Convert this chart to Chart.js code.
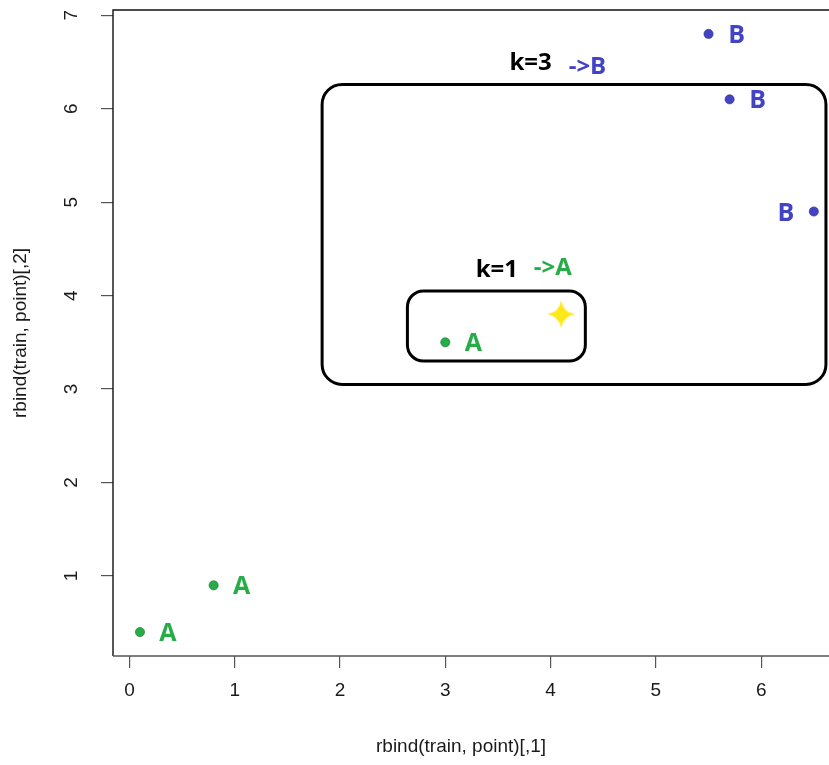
<!DOCTYPE html>
<html>
<head>
<meta charset="utf-8">
<script src="https://cdn.jsdelivr.net/npm/chart.js@4"></script>
<style>
  html, body { margin: 0; padding: 0; background: #fff; overflow: hidden; }
  canvas { display: block; }
</style>
</head>
<body>
<canvas id="knnChart" width="829" height="765"></canvas>
<script>
// training points and their classes
const trainX = [0.1, 0.8, 3.0, 5.5, 5.7, 6.5];
const trainY = [0.4, 0.9, 3.5, 6.8, 6.1, 4.9];
const trainClass = ['A', 'A', 'A', 'B', 'B', 'B'];

// the new point to classify
const queryX = [4.1];
const queryY = [3.8];

const xTicks = [0, 1, 2, 3, 4, 5, 6];
const yTicks = [1, 2, 3, 4, 5, 6, 7];

const xTitle = 'rbind(train, point)[,1]';
const yTitle = 'rbind(train, point)[,2]';

// hand drawn neighbourhoods, in data units
const k3Box = { x0: 1.83, x1: 6.615, y0: 3.05, y1: 6.26 };
const k1Box = { x0: 2.64, x1: 4.33, y0: 3.30, y1: 4.05 };

const GREEN = '#27ad48';
const BLUE = '#4343c6';
const classColor = { A: GREEN, B: BLUE };
const AXIS_FONT = '19px "Liberation Sans", Arial, sans-serif';

// yellow four point sparkle used as the marker for the query point
const sparkle = document.createElement('canvas');
sparkle.width = 32;
sparkle.height = 32;
(function () {
    const c = sparkle.getContext('2d');
    const cx = 16, cy = 16, r = 14, w = 3.8;
    c.fillStyle = '#ffe81a';
    c.beginPath();
    c.moveTo(cx, cy - r);
    c.quadraticCurveTo(cx + w * 0.5, cy - w * 0.5, cx + r, cy);
    c.quadraticCurveTo(cx + w * 0.5, cy + w * 0.5, cx, cy + r);
    c.quadraticCurveTo(cx - w * 0.5, cy + w * 0.5, cx - r, cy);
    c.quadraticCurveTo(cx - w * 0.5, cy - w * 0.5, cx, cy - r);
    c.fill();
    c.beginPath();
    c.arc(cx, cy, 6, 0, Math.PI * 2);
    c.fill();
})();

const pointsA = [], pointsB = [];
trainX.forEach((x, i) => {
    (trainClass[i] === 'A' ? pointsA : pointsB).push({ x: x, y: trainY[i] });
});

// labels next to each point: which side they sit on
const labelSide = [1, 1, 1, 1, 1, -1];

const decorations = {
    id: 'decorations',
    afterDraw(chart) {
        const ctx = chart.ctx;
        const xs = chart.scales.x, ys = chart.scales.y;
        const area = chart.chartArea;
        const px = v => xs.getPixelForValue(v);
        const py = v => ys.getPixelForValue(v);

        ctx.save();

        // plot frame (right side falls off the picture)
        ctx.strokeStyle = '#111';
        ctx.lineWidth = 1.4;
        ctx.beginPath();
        ctx.moveTo(area.right + 2, area.top);
        ctx.lineTo(area.left, area.top);
        ctx.lineTo(area.left, area.bottom);
        ctx.stroke();
        ctx.strokeStyle = '#555';
        ctx.beginPath();
        ctx.moveTo(area.left, area.bottom);
        ctx.lineTo(area.right + 2, area.bottom);
        ctx.stroke();

        // y tick labels, rotated the R way
        ctx.fillStyle = '#1a1a1a';
        ctx.font = AXIS_FONT;
        ctx.textAlign = 'center';
        ctx.textBaseline = 'middle';
        ys.ticks.forEach(t => {
            ctx.save();
            ctx.translate(72, py(t.value));
            ctx.rotate(-Math.PI / 2);
            ctx.fillText(String(t.value), 0, 0);
            ctx.restore();
        });

        // axis titles
        ctx.fillText(xTitle, 461, 747);
        ctx.save();
        ctx.translate(21, (area.top + area.bottom) / 2);
        ctx.rotate(-Math.PI / 2);
        ctx.fillText(yTitle, 0, 0);
        ctx.restore();

        // neighbourhood boxes
        ctx.strokeStyle = '#000';
        ctx.lineWidth = 3;
        ctx.beginPath();
        ctx.roundRect(px(k3Box.x0), py(k3Box.y1), px(k3Box.x1) - px(k3Box.x0), py(k3Box.y0) - py(k3Box.y1), 20);
        ctx.stroke();
        ctx.beginPath();
        ctx.roundRect(px(k1Box.x0), py(k1Box.y1), px(k1Box.x1) - px(k1Box.x0), py(k1Box.y0) - py(k1Box.y1), 16);
        ctx.stroke();

        // class labels beside the points
        ctx.font = 'bold 25px "Open Sans", sans-serif';
        trainX.forEach((x, i) => {
            ctx.fillStyle = classColor[trainClass[i]];
            ctx.fillText(trainClass[i], px(x) + labelSide[i] * 28, py(trainY[i]) + 2);
        });

        // k labels
        ctx.font = 'bold 24px "Open Sans", sans-serif';
        ctx.fillStyle = '#000';
        ctx.fillText('k=3', px(3.81), py(6.49));
        ctx.fillText('k=1', px(3.49), py(4.27));
        ctx.fillStyle = BLUE;
        ctx.fillText('->B', px(4.35), py(6.44));
        ctx.fillStyle = GREEN;
        ctx.fillText('->A', px(4.02), py(4.29));

        ctx.restore();
    }
};

new Chart(document.getElementById('knnChart'), {
    type: 'scatter',
    data: {
        datasets: [
            { data: pointsA, backgroundColor: GREEN, borderColor: '#1d6b33', borderWidth: 0.6, pointRadius: 4.6 },
            { data: pointsB, backgroundColor: BLUE, borderColor: '#2a2a80', borderWidth: 0.6, pointRadius: 4.6 },
            {
                data: queryX.map((x, i) => ({ x: x, y: queryY[i] })),
                pointStyle: sparkle,
                pointRadius: 16
            }
        ]
    },
    options: {
        responsive: false,
        devicePixelRatio: 1,
        animation: false,
        layout: { autoPadding: false, padding: { top: 10, right: 0, left: 0, bottom: 0 } },
        plugins: {
            legend: { display: false },
            tooltip: { enabled: false }
        },
        scales: {
            x: {
                type: 'linear',
                min: -0.156,
                max: 6.644,
                afterBuildTicks: s => { s.ticks = xTicks.map(v => ({ value: v })); },
                afterFit: s => { s.height = 109; },
                border: { display: false },
                grid: { drawOnChartArea: false, tickLength: 12, color: '#555', lineWidth: 1.2 },
                ticks: {
                    color: '#1a1a1a',
                    padding: 11,
                    font: { family: '"Liberation Sans", Arial, sans-serif', size: 19 }
                }
            },
            y: {
                type: 'linear',
                min: 0.144,
                max: 7.056,
                afterBuildTicks: s => { s.ticks = yTicks.map(v => ({ value: v })); },
                afterFit: s => { s.width = 113; },
                border: { display: false },
                grid: { drawOnChartArea: false, tickLength: 12, color: '#555', lineWidth: 1.2 },
                ticks: { display: false }
            }
        }
    },
    plugins: [decorations]
});
</script>
</body>
</html>
